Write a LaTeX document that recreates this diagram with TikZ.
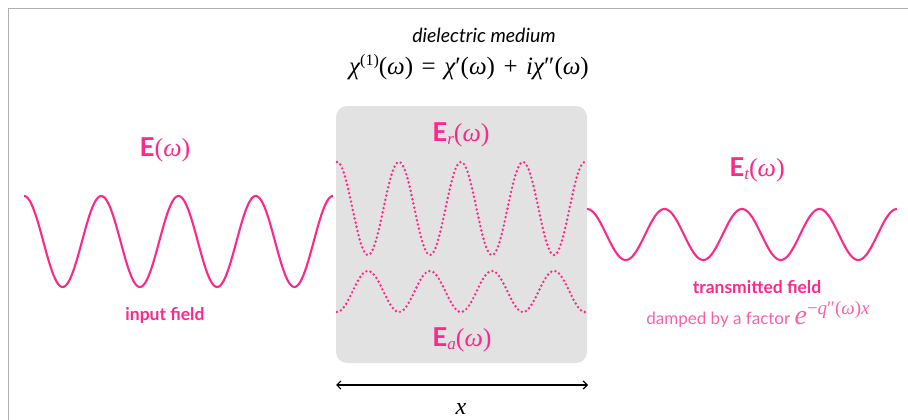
\documentclass[tikz,border=0pt]{standalone}
\usepackage{fontspec}
\setmainfont{Lato}
\newfontfamily\tms{Liberation Serif}
\usetikzlibrary{arrows.meta}
\definecolor{pinkw}{RGB}{252,40,138}
\definecolor{pinkl}{RGB}{252,95,170}
\definecolor{boxgray}{RGB}{226,226,226}
\definecolor{framegray}{RGB}{175,175,175}
\newcommand{\ti}[1]{{\tms\itshape #1}}
\newcommand{\tu}[1]{{\tms #1}}
\newcommand{\opsp}{\hspace{0.34em}}
\newcommand{\Elab}[1]{{\bfseries E}\raisebox{-0.25ex}{\fontsize{17}{17}\selectfont\ti{#1}}\tu{(}\ti{ω}\tu{)}}
\begin{document}
\begin{tikzpicture}[x=1pt,y=-1pt,
  wave/.style={pinkw,line width=2.1pt},
  dotwave/.style={pinkw,line width=2.7pt,line cap=round,dash pattern=on 0pt off 4.3pt},
  lab/.style={text=pinkw,font=\fontsize{26}{26}\selectfont,inner sep=0pt},
  small/.style={text=pinkw,font=\fontsize{17.5}{17.5}\selectfont\bfseries,inner sep=0pt},
]
\useasboundingbox (0,0) rectangle (908,420);
\draw[framegray,line width=1pt] (8,420) -- (8,9) -- (908,9);
\node[inner sep=0pt,font=\fontsize{19.5}{19.5}\selectfont\itshape] (title) at (484,35) {dielectric medium};
\node[inner sep=0pt,font=\fontsize{25}{25}\selectfont\tms] (chi) at (469,67)
  {\ti{χ}\raisebox{0.8ex}{\fontsize{16}{16}\selectfont\tu{(1)}}\tu{(}\ti{ω}\tu{)}\opsp\tu{=}\opsp\ti{χ}\tu{′(}\ti{ω}\tu{)}\opsp\tu{+}\opsp\ti{iχ}\tu{″(}\ti{ω}\tu{)}};
\node[fill=boxgray,rounded corners=11pt,minimum width=251pt,minimum height=257pt,inner sep=0pt] (medium) at (461.5,234.5) {};
% input wave
\draw[wave] plot[domain=24:333,samples=240] (\x,{241.5-45.5*cos((\x-24)/77.25*360)});
% reflected (dotted)
\draw[dotwave] plot[domain=337:585,samples=240] (\x,{208.5-46.5*cos((\x-337)/62*360)});
% absorbed (dotted)
\draw[dotwave] plot[domain=337:585,samples=240] (\x,{291.5+20.5*cos((\x-337)/62*360)});
% transmitted wave
\draw[wave] plot[domain=587:897,samples=240] (\x,{234.5-25.5*cos((\x-587)/77.5*360)});
\node[lab] (E) at (165,150) {{\bfseries E}\tu{(}\ti{ω}\tu{)}};
\node[lab] (Er) at (461,135) {\Elab{r}};
\node[lab] (Ea) at (462,340) {\Elab{a}};
\node[lab] (Et) at (757,170) {\Elab{t}};
\node[small] (inp) at (165,315) {input field};
\node[small] (trans) at (757,287) {transmitted field};
\node[inner sep=0pt,text=pinkl,font=\fontsize{17}{17}\selectfont,anchor=base] (damp) at (758,324)
  {damped by a factor \raisebox{0pt}{\fontsize{28}{28}\selectfont\ti{e}}\raisebox{1.1ex}{\fontsize{19}{19}\selectfont\tu{−}\ti{q}\tu{″(}\ti{ω}\tu{)}\ti{x}}};
\coordinate (aL) at (336,385);
\coordinate (aR) at (588,385);
\draw[line width=1.2pt,{Straight Barb[length=4pt,width=8pt]}-{Straight Barb[length=4pt,width=8pt]}] (aL) -- (aR);
\node[inner sep=0pt,font=\fontsize{24}{24}\selectfont] (xl) at (461,409) {\ti{x}};
\end{tikzpicture}
\end{document}
